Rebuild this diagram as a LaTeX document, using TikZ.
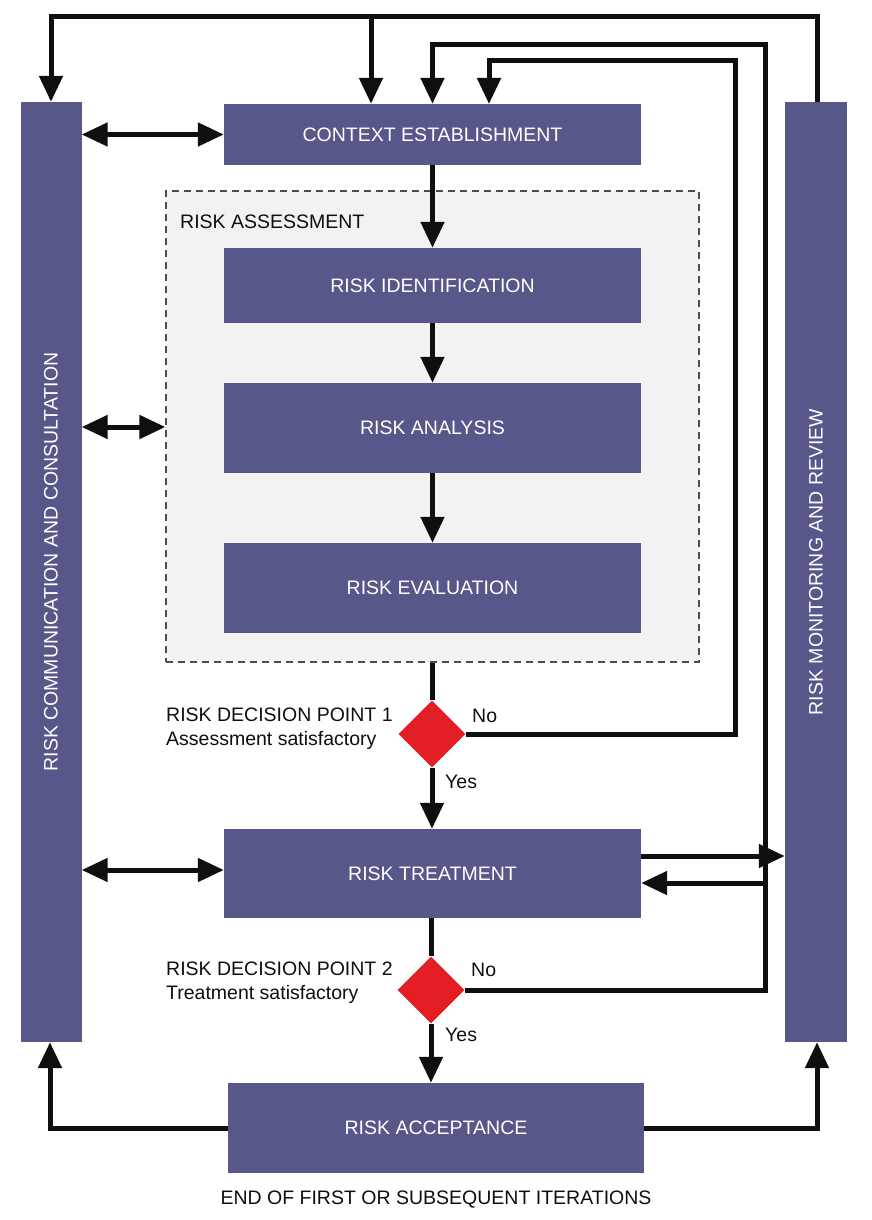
\documentclass[tikz,border=0pt]{standalone}
\usepackage{fontspec}
\setmainfont{Liberation Sans}
\usetikzlibrary{arrows.meta,shapes.geometric}
\definecolor{boxblue}{RGB}{88,87,138}
\definecolor{decred}{RGB}{227,30,36}
\definecolor{panelgray}{RGB}{242,242,242}
\definecolor{ink}{RGB}{15,15,15}
\tikzset{
  procbox/.style={draw=none,fill=boxblue,text=white,minimum width=417pt,inner sep=0pt,font=\fontsize{19.5}{23}\selectfont},
  sidebar/.style={draw=none,fill=boxblue,text=white,minimum width=61pt,minimum height=940pt,inner sep=0pt},
  sidetext/.style={text=white,rotate=90,font=\fontsize{19.5}{23}\selectfont,inner sep=0pt},
  decision/.style={diamond,fill=decred,draw=none,minimum width=67pt,minimum height=67pt,inner sep=0pt},
  lbl/.style={text=ink,font=\fontsize{19.5}{24}\selectfont,inner sep=0pt},
  conn/.style={draw=ink,line width=5pt},
  arr/.style={conn,-{Triangle[length=26pt,width=23pt]}},
  darr/.style={conn,{Triangle[length=26pt,width=23pt]}-{Triangle[length=26pt,width=23pt]}}
}
\begin{document}
\begin{tikzpicture}[x=1pt,y=-1pt]
\useasboundingbox (0,0) rectangle (871,1220);
\fill[white] (0,0) rectangle (871,1220);

% side bars
\node[sidebar] (lbar) at (51,572) {};
\node[sidebar,minimum width=62pt] (rbar) at (816,572) {};
\node[sidetext] (ltext) at (51,562) {RISK COMMUNICATION AND CONSULTATION};
\node[sidetext] (rtext) at (816,562) {RISK MONITORING AND REVIEW};

% risk assessment panel
\node[draw=black!70,fill=panelgray,line width=1.2pt,dash pattern=on 7pt off 5pt,minimum width=533pt,minimum height=471pt,inner sep=0pt] (ra) at (432.5,426.5) {};
\node[lbl,anchor=west] (ratitle) at (180,222) {RISK ASSESSMENT};

% process boxes
\node[procbox,minimum height=61pt] (ctx) at (432.5,134.5) {CONTEXT ESTABLISHMENT};
\node[procbox,minimum height=75pt] (ident) at (432.5,285.5) {RISK IDENTIFICATION};
\node[procbox,minimum height=90pt] (anal) at (432.5,428) {RISK ANALYSIS};
\node[procbox,minimum height=90pt] (eval) at (432.5,588) {RISK EVALUATION};
\node[procbox,minimum height=89pt] (treat) at (432.5,873.5) {RISK TREATMENT};
\node[procbox,minimum height=90pt,minimum width=416pt] (accept) at (436,1128) {RISK ACCEPTANCE};

% decisions
\node[decision] (d1) at (432,734) {};
\node[decision] (d2) at (431,990) {};
\node[lbl,anchor=west,align=left] (d1lbl) at (166,729) {RISK DECISION POINT 1\\Assessment satisfactory};
\node[lbl,anchor=west,align=left] (d2lbl) at (166,983) {RISK DECISION POINT 2\\Treatment satisfactory};
\node[lbl,anchor=west] (no1) at (472,716) {No};
\node[lbl,anchor=west] (yes1) at (445,782) {Yes};
\node[lbl,anchor=west] (no2) at (471,970) {No};
\node[lbl,anchor=west] (yes2) at (445,1035) {Yes};
\node[lbl] (endtxt) at (436,1200) {END OF FIRST OR SUBSEQUENT ITERATIONS};

% coordinates for routed connectors
\coordinate (top1) at (817,17);
\coordinate (br1) at (371,17);
\coordinate (top2) at (765,45);
\coordinate (top3) at (735,61);
\coordinate (in3) at (489,104);
\coordinate (ret) at (765,883);
\coordinate (tout) at (641,856);
\coordinate (y2) at (0,427);
\coordinate (y3) at (0,870);
\coordinate (lx) at (50,0);
\coordinate (rx) at (817,0);

% main flow
\draw[arr] (ctx.south) -- (ident.north);
\draw[arr] (ident.south) -- (anal.north);
\draw[arr] (anal.south) -- (eval.north);
\draw[conn] (ra.south -| d1.north) -- (d1.north);
\draw[arr] (d1.south) -- (d1.south |- treat.north);
\draw[conn] (treat.south -| d2.north) -- (d2.north);
\draw[arr] (d2.south) -- (d2.south |- accept.north);

% outer loop
\draw[arr] (rbar.north -| top1) -- (top1) -| (lbar.north);
\draw[arr] (br1) -- (br1 |- ctx.north);
% decision 2 loop
\draw[arr] (d2.east) -| (top2) -| (ctx.north);
\draw[arr] (ret) -- (ret -| treat.east);
% decision 1 loop
\draw[arr] (d1.east) -| (top3) -| (in3);
% treatment to monitoring
\draw[arr] (tout) -- (tout -| rbar.west);

% communication links
\draw[darr] (lbar.east |- ctx.west) -- (ctx.west);
\draw[darr] (lbar.east |- y2) -- (ra.west |- y2);
\draw[darr] (lbar.east |- y3) -- (treat.west |- y3);

% acceptance outputs
\draw[arr] (accept.west) -| (lbar.south -| lx);
\draw[arr] (accept.east) -| (rbar.south -| rx);
\end{tikzpicture}
\end{document}
